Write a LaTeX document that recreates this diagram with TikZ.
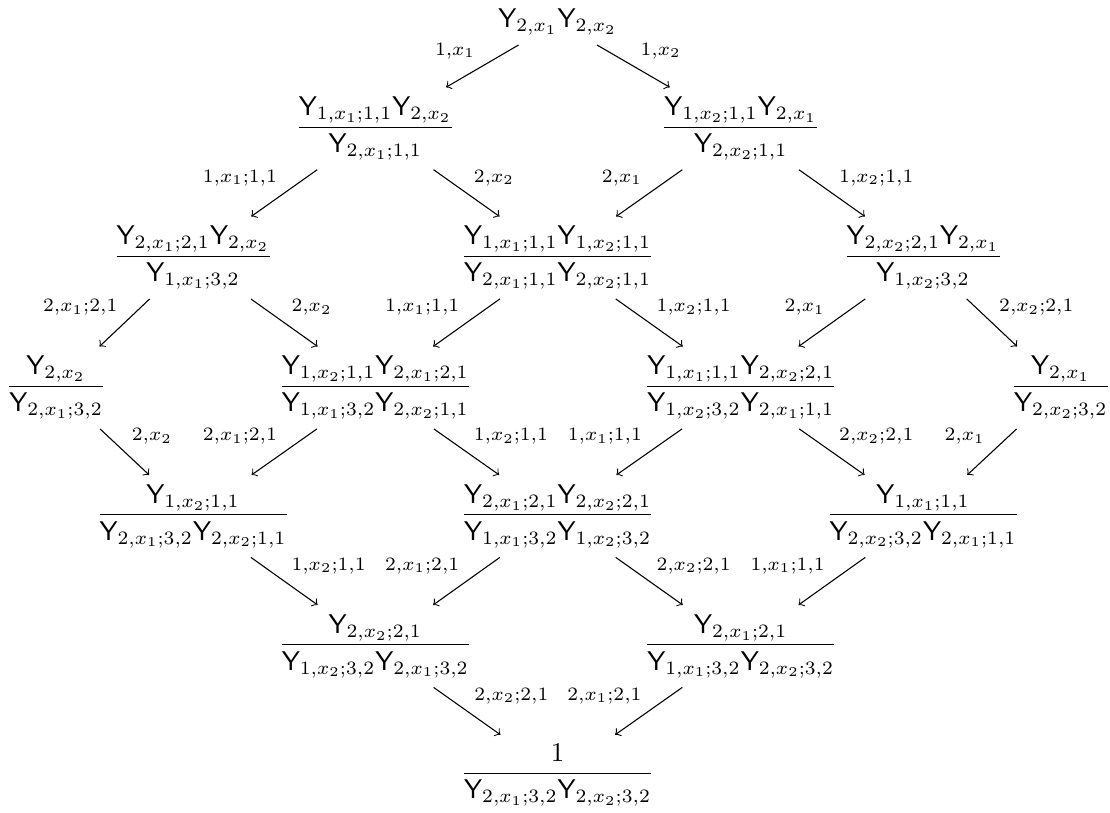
\documentclass[tikz,border=0pt]{standalone}
\usepackage{amssymb}
\usepackage{amsmath}
\usepackage{tikz}
\usetikzlibrary{arrows,positioning}
\newcommand{\Y}{\mathsf{Y}}
\newcommand{\elab}[1]{$\scriptstyle #1$}

\begin{document}
\begin{tikzpicture}[elem/.style={anchor=base},lbl/.style={inner sep=2.5pt}]
		\useasboundingbox (0,0) rectangle (14.43,-10.556);
		% rows of the lattice
		\node[elem] (n0) at (7.25,-0.36) {$ \Y_{2,x_1}\Y_{2,x_2} $};
		\node[elem] (n11) at (4.88,-1.74) {$ \dfrac{\Y_{1,x_1;1,1}\Y_{2,x_2}}{\Y_{2,x_1;1,1}} $};
		\node[elem] (n12) at (9.63,-1.74) {$ \dfrac{\Y_{1,x_2;1,1}\Y_{2,x_1}}{\Y_{2,x_2;1,1}} $};
		\node[elem] (n21) at (2.51,-3.42) {$ \dfrac{\Y_{2,x_1;2,1}\Y_{2,x_2}}{\Y_{1,x_1;3,2}} $};
		\node[elem] (n22) at (7.25,-3.42) {$ \dfrac{\Y_{1,x_1;1,1}\Y_{1,x_2;1,1}}{\Y_{2,x_1;1,1}\Y_{2,x_2;1,1}} $};
		\node[elem] (n23) at (12.00,-3.42) {$ \dfrac{\Y_{2,x_2;2,1}\Y_{2,x_1}}{\Y_{1,x_2;3,2}} $};
		\node[elem] (n31) at (0.73,-5.11) {$ \dfrac{\Y_{2,x_2}}{\Y_{2,x_1;3,2}} $};
		\node[elem] (n32) at (4.88,-5.11) {$ \dfrac{\Y_{1,x_2;1,1}\Y_{2,x_1;2,1}}{\Y_{1,x_1;3,2}\Y_{2,x_2;1,1}} $};
		\node[elem] (n33) at (9.63,-5.11) {$ \dfrac{\Y_{1,x_1;1,1}\Y_{2,x_2;2,1}}{\Y_{1,x_2;3,2}\Y_{2,x_1;1,1}} $};
		\node[elem] (n34) at (13.79,-5.11) {$ \dfrac{\Y_{2,x_1}}{\Y_{2,x_2;3,2}} $};
		\node[elem] (n41) at (2.51,-6.78) {$ \dfrac{\Y_{1,x_2;1,1}}{\Y_{2,x_1;3,2}\Y_{2,x_2;1,1}} $};
		\node[elem] (n42) at (7.25,-6.78) {$ \dfrac{\Y_{2,x_1;2,1}\Y_{2,x_2;2,1}}{\Y_{1,x_1;3,2}\Y_{1,x_2;3,2}} $};
		\node[elem] (n43) at (12.00,-6.78) {$ \dfrac{\Y_{1,x_1;1,1}}{\Y_{2,x_2;3,2}\Y_{2,x_1;1,1}} $};
		\node[elem] (n51) at (4.88,-8.47) {$ \dfrac{\Y_{2,x_2;2,1}}{\Y_{1,x_2;3,2}\Y_{2,x_1;3,2}} $};
		\node[elem] (n52) at (9.63,-8.47) {$ \dfrac{\Y_{2,x_1;2,1}}{\Y_{1,x_1;3,2}\Y_{2,x_2;3,2}} $};
		\node[elem] (n6) at (7.25,-10.14) {$ \dfrac{1}{\Y_{2,x_1;3,2}\Y_{2,x_2;3,2}} $};
		% arrows
		\draw[->] (n0) -- node[lbl,above left] {\elab{1,x_1}} (n11);
		\draw[->] (n0) -- node[lbl,above right] {\elab{1,x_2}} (n12);
		\draw[->] (n11) -- node[lbl,above left] {\elab{1,x_1;1,1}} (n21);
		\draw[->] (n11) -- node[lbl,above right] {\elab{2,x_2}} (n22);
		\draw[->] (n12) -- node[lbl,above left] {\elab{2,x_1}} (n22);
		\draw[->] (n12) -- node[lbl,above right] {\elab{1,x_2;1,1}} (n23);
		\draw[->] (n21) -- node[lbl,above left] {\elab{2,x_1;2,1}} (n31);
		\draw[->] (n21) -- node[lbl,above right] {\elab{2,x_2}} (n32);
		\draw[->] (n22) -- node[lbl,above left] {\elab{1,x_1;1,1}} (n32);
		\draw[->] (n22) -- node[lbl,above right] {\elab{1,x_2;1,1}} (n33);
		\draw[->] (n23) -- node[lbl,above left] {\elab{2,x_1}} (n33);
		\draw[->] (n23) -- node[lbl,above right] {\elab{2,x_2;2,1}} (n34);
		\draw[->] (n31) -- node[lbl,above right] {\elab{2,x_2}} (n41);
		\draw[->] (n32) -- node[lbl,above left] {\elab{2,x_1;2,1}} (n41);
		\draw[->] (n32) -- node[lbl,above right] {\elab{1,x_2;1,1}} (n42);
		\draw[->] (n33) -- node[lbl,above left] {\elab{1,x_1;1,1}} (n42);
		\draw[->] (n33) -- node[lbl,above right] {\elab{2,x_2;2,1}} (n43);
		\draw[->] (n34) -- node[lbl,above left] {\elab{2,x_1}} (n43);
		\draw[->] (n41) -- node[lbl,above right] {\elab{1,x_2;1,1}} (n51);
		\draw[->] (n42) -- node[lbl,above left] {\elab{2,x_1;2,1}} (n51);
		\draw[->] (n42) -- node[lbl,above right] {\elab{2,x_2;2,1}} (n52);
		\draw[->] (n43) -- node[lbl,above left] {\elab{1,x_1;1,1}} (n52);
		\draw[->] (n51) -- node[lbl,above right] {\elab{2,x_2;2,1}} (n6);
		\draw[->] (n52) -- node[lbl,above left] {\elab{2,x_1;2,1}} (n6);
		\end{tikzpicture}
\end{document}
